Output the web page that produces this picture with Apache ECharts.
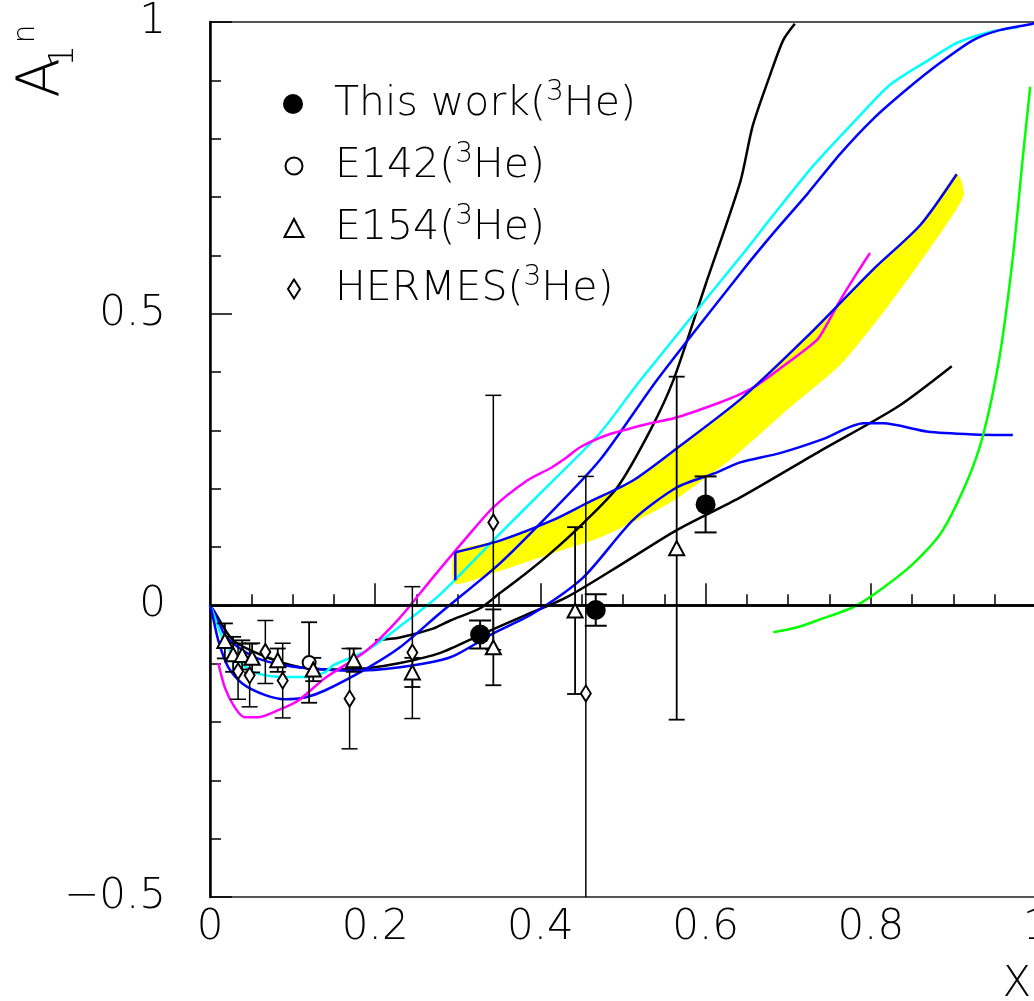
<!DOCTYPE html>
<html>
<head>
<meta charset="utf-8">
<script src="https://cdn.jsdelivr.net/npm/echarts@6/dist/echarts.min.js"></script>
<style>
html,body{margin:0;padding:0;background:#fff;overflow:hidden;}
#chart{width:1034px;height:1001px;}
</style>
</head>
<body>
<div id="chart"></div>
<script>
// ---------- data ----------
const xTicks = [0, 0.2, 0.4, 0.6, 0.8, 1];
const yTicks = [-0.5, 0, 0.5, 1];

const thisWorkX = [0.327, 0.467, 0.600];
const thisWorkY = [-0.050, -0.008, 0.173];
const thisWorkErr = [0.024, 0.027, 0.048];

const e142X = [0.120];
const e142Y = [-0.098];
const e142Err = [0.069];

const e154X = [0.018, 0.028, 0.039, 0.051, 0.082, 0.125, 0.174, 0.245, 0.343, 0.442, 0.565];
const e154Y = [-0.061, -0.084, -0.085, -0.090, -0.094, -0.110, -0.094, -0.115, -0.072, -0.009, 0.098];
const e154Err = [0.030, 0.030, 0.025, 0.025, 0.020, 0.020, 0.020, 0.025, 0.065, 0.143, 0.294];

const hermesX = [0.034, 0.048, 0.067, 0.088, 0.169, 0.245, 0.343, 0.455];
const hermesY = [-0.113, -0.120, -0.080, -0.129, -0.160, -0.081, 0.142, -0.151];
const hermesErr = [0.048, 0.054, 0.054, 0.064, 0.086, 0.113, 0.218, 0.372];

// model curves
const blackSteepX = [0.200, 0.230, 0.270, 0.291, 0.327, 0.351, 0.380, 0.412, 0.452, 0.493, 0.533, 0.561, 0.600, 0.642, 0.657, 0.678, 0.694, 0.708];
const blackSteepY = [-0.060, -0.055, -0.040, -0.026, -0.005, 0.021, 0.052, 0.089, 0.141, 0.202, 0.300, 0.386, 0.550, 0.726, 0.822, 0.909, 0.969, 0.997];

const blackLowX = [0, 0.005, 0.028, 0.069, 0.109, 0.157, 0.190, 0.230, 0.278, 0.327, 0.380, 0.432, 0.500, 0.565, 0.642, 0.738, 0.832, 0.898];
const blackLowY = [0, -0.010, -0.060, -0.089, -0.106, -0.110, -0.108, -0.099, -0.082, -0.051, -0.018, 0.014, 0.072, 0.129, 0.185, 0.264, 0.340, 0.410];

const blueFlatX = [0, 0.005, 0.020, 0.050, 0.080, 0.120, 0.170, 0.230, 0.291, 0.343, 0.391, 0.452, 0.512, 0.565, 0.614, 0.642, 0.690, 0.742, 0.791, 0.815, 0.868, 0.924, 0.972];
const blueFlatY = [0, -0.012, -0.055, -0.086, -0.100, -0.108, -0.112, -0.106, -0.089, -0.048, -0.014, 0.048, 0.146, 0.202, 0.228, 0.245, 0.261, 0.285, 0.312, 0.312, 0.298, 0.293, 0.292];

const blueSteepX = [0, 0.002, 0.010, 0.022, 0.039, 0.067, 0.091, 0.115, 0.139, 0.190, 0.230, 0.278, 0.351, 0.412, 0.472, 0.541, 0.642, 0.682, 0.723, 0.763, 0.803, 0.844, 0.884, 0.924, 0.956, 0.996, 1.0];
const blueSteepY = [0, -0.010, -0.060, -0.106, -0.134, -0.154, -0.161, -0.158, -0.146, -0.108, -0.072, -0.014, 0.072, 0.158, 0.249, 0.386, 0.569, 0.638, 0.705, 0.774, 0.834, 0.885, 0.930, 0.969, 0.986, 0.997, 1.0];

const cyanX = [0, 0.003, 0.015, 0.030, 0.054, 0.087, 0.115, 0.139, 0.149, 0.190, 0.230, 0.278, 0.351, 0.412, 0.472, 0.521, 0.642, 0.682, 0.730, 0.783, 0.823, 0.868, 0.904, 0.944, 0.978];
const cyanY = [0, -0.010, -0.055, -0.089, -0.115, -0.123, -0.123, -0.115, -0.103, -0.077, -0.036, 0.018, 0.123, 0.209, 0.295, 0.386, 0.597, 0.669, 0.753, 0.834, 0.892, 0.933, 0.964, 0.983, 0.991];

const magentaX = [0.010, 0.018, 0.030, 0.042, 0.058, 0.082, 0.107, 0.139, 0.190, 0.230, 0.270, 0.311, 0.343, 0.384, 0.412, 0.432, 0.448, 0.481, 0.533, 0.565, 0.614, 0.642, 0.662, 0.694, 0.735, 0.747, 0.763, 0.783, 0.799];
const magentaY = [-0.099, -0.141, -0.175, -0.192, -0.192, -0.180, -0.163, -0.125, -0.077, -0.021, 0.048, 0.117, 0.168, 0.214, 0.235, 0.254, 0.271, 0.292, 0.312, 0.322, 0.346, 0.362, 0.377, 0.410, 0.455, 0.482, 0.523, 0.569, 0.604];

const greenX = [0.682, 0.710, 0.735, 0.783, 0.844, 0.884, 0.916, 0.936, 0.956, 0.972, 0.984, 0.993];
const greenY = [-0.046, -0.038, -0.026, 0.0, 0.062, 0.122, 0.211, 0.292, 0.427, 0.597, 0.767, 0.889];

const bandUpperX = [0.297, 0.351, 0.415, 0.456, 0.512, 0.565, 0.642, 0.723, 0.803, 0.860, 0.904];
const bandUpperY = [0.091, 0.111, 0.146, 0.175, 0.214, 0.269, 0.353, 0.461, 0.576, 0.652, 0.739];
const bandLowerX = [0.297, 0.351, 0.412, 0.472, 0.533, 0.565, 0.633, 0.702, 0.763, 0.811, 0.860, 0.912];
const bandLowerY = [0.038, 0.060, 0.089, 0.117, 0.158, 0.184, 0.254, 0.340, 0.413, 0.496, 0.590, 0.702];
const bandEdgeX = [0.297, 0.297];
const bandEdgeY = [0.043, 0.091];

// ---------- helpers ----------
const X_MIN = 0, X_MAX = 1, Y_MIN = -0.5, Y_MAX = 1;
const FONT = '"DejaVu Sans", sans-serif';
const FW = 200;
const zip = (xs, ys) => xs.map((x, i) => [x, ys[i]]);
const zip3 = (xs, ys, es) => xs.map((x, i) => [x, ys[i], es[i]]);

function errRender(capHalf, lw) {
  return function (params, api) {
    const x = api.value(0), y = api.value(1), e = api.value(2);
    const hi = Math.min(y + e, Y_MAX), lo = Math.max(y - e, Y_MIN);
    const p1 = api.coord([x, hi]), p2 = api.coord([x, lo]);
    const st = { stroke: '#000', lineWidth: lw };
    const ch = [{ type: 'line', shape: { x1: p1[0], y1: p1[1], x2: p2[0], y2: p2[1] }, style: st }];
    if (y + e <= Y_MAX) ch.push({ type: 'line', shape: { x1: p1[0] - capHalf, y1: p1[1], x2: p1[0] + capHalf, y2: p1[1] }, style: st });
    if (y - e >= Y_MIN) ch.push({ type: 'line', shape: { x1: p2[0] - capHalf, y1: p2[1], x2: p2[0] + capHalf, y2: p2[1] }, style: st });
    return { type: 'group', children: ch };
  };
}

function bandRender(params, api) {
  const up = zip(bandUpperX, bandUpperY).map(p => api.coord(p));
  const low = zip(bandLowerX, bandLowerY).map(p => api.coord(p)).reverse();
  return { type: 'polygon', shape: { points: up.concat(low), smooth: 0.2 }, style: { fill: '#ffff00', stroke: '#ffff00', lineWidth: 1 } };
}

function curve(name, xs, ys, color, z) {
  return {
    name: name, type: 'line', data: zip(xs, ys), showSymbol: false, symbol: 'none',
    smooth: 0.25, clip: true, silent: true, z: z || 3,
    lineStyle: { color: color, width: 2.5 }
  };
}

const legendPrefix = { thiswork: 'This work(', e142: 'E142(', e154: 'E154(', hermes: 'HERMES(' };
const legendRich = {
  t: { fontSize: 41, fontFamily: FONT, fontWeight: FW, color: '#000', lineHeight: 50 },
  s: { fontSize: 28, fontFamily: FONT, fontWeight: FW, color: '#000', lineHeight: 26, verticalAlign: 'top' }
};
function mkLegend(name, icon, w, h, top) {
  return {
    data: [{ name: name, icon: icon }], orient: 'horizontal',
    left: 293 - w / 2, top: top, itemWidth: w, itemHeight: h,
    selectedMode: false, padding: 0,
    formatter: n => '{t|' + legendPrefix[n] + '}{s|3}{t|He)}',
    textStyle: { padding: [0, 0, 0, 337 - 3 - (293 + w / 2 + 5)], rich: legendRich }
  };
}

const chart = echarts.init(document.getElementById('chart'), null, { renderer: 'canvas' });
const option = {
  backgroundColor: '#fff',
  animation: false,
  grid: { left: 210, top: 22, width: 826, height: 875, containLabel: false, outerBoundsMode: 'none',
    show: true, borderColor: '#555', borderWidth: 2, backgroundColor: 'transparent' },
  xAxis: {
    type: 'value', min: X_MIN, max: X_MAX, interval: 0.2,
    axisLine: { show: true, lineStyle: { color: '#000', width: 2.5 } },
    axisTick: { show: true, inside: true, length: 22, lineStyle: { color: '#000', width: 1.5 } },
    minorTick: { show: true, splitNumber: 4, length: 11, lineStyle: { color: '#000', width: 1.5 } },
    splitLine: { show: false }, minorSplitLine: { show: false },
    axisLabel: { fontSize: 42, fontFamily: FONT, fontWeight: FW, color: '#000', margin: 10, hideOverlap: false,
      formatter: v => xTicks.includes(Math.round(v * 10) / 10) ? String(Math.round(v * 10) / 10) : '' }
  },
  yAxis: {
    type: 'value', min: Y_MIN, max: Y_MAX, interval: 0.5,
    axisLine: { show: true, onZero: false, lineStyle: { color: '#000', width: 2.5 } },
    axisTick: { show: true, inside: true, length: 22, lineStyle: { color: '#000', width: 1.5 } },
    minorTick: { show: true, splitNumber: 5, length: 11, lineStyle: { color: '#000', width: 1.5 } },
    splitLine: { show: false }, minorSplitLine: { show: false },
    axisLabel: { fontSize: 42, fontFamily: FONT, fontWeight: FW, color: '#000', margin: 44,
      formatter: v => yTicks.includes(v) ? String(v).replace('-', '\u2212') : '' }
  },
  legend: [
    mkLegend('thiswork', 'circle', 20, 20, 79),
    mkLegend('e142', 'circle', 17, 17, 141),
    mkLegend('e154', 'triangle', 19, 18, 203),
    mkLegend('hermes', 'diamond', 12, 19, 264)
  ],
  graphic: [
    { type: 'text', x: 1017, y: 985, style: { text: 'X', fontSize: 42, fontFamily: FONT, fontWeight: FW, fill: '#000', align: 'center', verticalAlign: 'middle', textAlign: 'center', textVerticalAlign: 'middle' } },
    { type: 'text', x: 44, y: 78, rotation: Math.PI / 2, style: { text: 'A', fontSize: 58, fontFamily: FONT, fontWeight: FW, fill: '#000', align: 'center', verticalAlign: 'middle', textAlign: 'center', textVerticalAlign: 'middle' } },
    { type: 'text', x: 64, y: 56, rotation: Math.PI / 2, style: { text: '1', fontSize: 34, fontFamily: FONT, fontWeight: FW, fill: '#000', align: 'center', verticalAlign: 'middle', textAlign: 'center', textVerticalAlign: 'middle' } },
    { type: 'text', x: 26, y: 34, rotation: Math.PI / 2, style: { text: 'n', fontSize: 30, fontFamily: FONT, fontWeight: FW, fill: '#000', align: 'center', verticalAlign: 'middle', textAlign: 'center', textVerticalAlign: 'middle' } }
  ],
  series: [
    { name: 'band', type: 'custom', renderItem: bandRender, data: [[bandUpperX[0], bandUpperY[0]]], z: 1, silent: true, clip: true },
    {
      name: 'zero', type: 'line', data: [], z: 2, silent: true,
      markLine: { symbol: 'none', silent: true, label: { show: false }, data: [{ yAxis: 0 }], lineStyle: { color: '#000', width: 2.5, type: 'solid' } }
    },
    curve('blackSteep', blackSteepX, blackSteepY, '#000000'),
    curve('blackLow', blackLowX, blackLowY, '#000000'),
    curve('blueFlat', blueFlatX, blueFlatY, '#0000ff'),
    curve('cyan', cyanX, cyanY, '#00ffff'),
    curve('blueSteep', blueSteepX, blueSteepY, '#0000ff'),
    curve('magenta', magentaX, magentaY, '#ff00ff'),
    curve('green', greenX, greenY, '#00ff00'),
    curve('bandUpper', bandUpperX, bandUpperY, '#0000ff'),
    { name: 'bandEdge', type: 'line', data: zip(bandEdgeX, bandEdgeY), showSymbol: false, symbol: 'none', silent: true, z: 3, lineStyle: { color: '#0000ff', width: 2.5 } },
    { name: 'errHermes', type: 'custom', renderItem: errRender(8, 1.5), data: zip3(hermesX, hermesY, hermesErr), encode: { x: 0, y: 1 }, z: 4, silent: true },
    { name: 'errE154', type: 'custom', renderItem: errRender(8, 1.8), data: zip3(e154X, e154Y, e154Err), encode: { x: 0, y: 1 }, z: 4, silent: true },
    { name: 'errE142', type: 'custom', renderItem: errRender(8, 1.8), data: zip3(e142X, e142Y, e142Err), encode: { x: 0, y: 1 }, z: 4, silent: true },
    { name: 'errThis', type: 'custom', renderItem: errRender(11, 2), data: zip3(thisWorkX, thisWorkY, thisWorkErr), encode: { x: 0, y: 1 }, z: 4, silent: true },
    { name: 'hermes', type: 'scatter', data: zip(hermesX, hermesY), symbol: 'diamond', symbolSize: [10, 16], z: 5, silent: true,
      itemStyle: { color: '#fff', borderColor: '#000', borderWidth: 2, opacity: 1 } },
    { name: 'e142', type: 'scatter', data: zip(e142X, e142Y), symbol: 'circle', symbolSize: 13, z: 5, silent: true,
      itemStyle: { color: '#fff', borderColor: '#000', borderWidth: 2, opacity: 1 } },
    { name: 'e154', type: 'scatter', data: zip(e154X, e154Y), symbol: 'triangle', symbolSize: [15, 14], z: 5, silent: true,
      itemStyle: { color: '#fff', borderColor: '#000', borderWidth: 2, opacity: 1 } },
    { name: 'thiswork', type: 'scatter', data: zip(thisWorkX, thisWorkY), symbol: 'circle', symbolSize: 20, z: 6, silent: true,
      itemStyle: { color: '#000', opacity: 1 } }
  ]
};
chart.setOption(option);
</script>
</body>
</html>
